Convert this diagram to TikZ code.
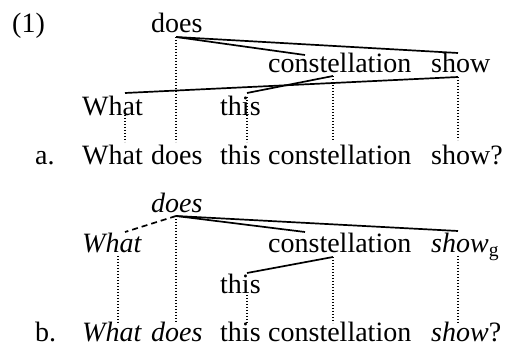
\documentclass[tikz,border=0pt]{standalone}
\usepackage{fontspec}
\setmainfont{Liberation Serif}
\begin{document}
\begin{tikzpicture}[x=1pt,y=-1pt,
  word/.style={inner sep=0pt,anchor=base west,font=\fontsize{28}{32}\selectfont},
  link/.style={line width=1.7pt},
  proj/.style={line width=1.3pt,dash pattern=on 1.3pt off 1.7pt},
  dlink/.style={line width=1.7pt,dash pattern=on 6pt off 4pt}]
\useasboundingbox (0,0) rectangle (507,347);
% ---------- (1) a ----------
\node[word] (num) at (12,33) {(1)};
\node[word] (doesA) at (151,33) {does};
\node[word] (constA) at (268,73) {constellation};
\node[word] (showA) at (431,73) {show};
\node[word] (whatA) at (82,116) {What};
\node[word] (thisA) at (220,116) {this};
\node[word] (la) at (35,165) {a.};
\node[word] (wa1) at (82,165) {What};
\node[word] (wa2) at (151,165) {does};
\node[word] (wa3) at (220,165) {this};
\node[word] (wa4) at (268,165) {constellation};
\node[word] (wa5) at (431,165) {show?};
\coordinate (dA) at (176,37);
\coordinate (cAt) at (305,55);
\coordinate (sAt) at (458,53);
\coordinate (cAb) at (333,76);
\coordinate (sAb) at (458,77);
\coordinate (wAt) at (125,93);
\coordinate (wAb) at (125,115);
\coordinate (tAt) at (247,93);
\coordinate (tAb) at (247,97);
\coordinate (e1) at (125,142);
\coordinate (e2) at (176,142);
\coordinate (e3) at (247,142);
\coordinate (e4) at (333,140);
\coordinate (e5) at (458,140);
\draw[link] (dA) -- (cAt);
\draw[link] (dA) -- (sAt);
\draw[link] (wAt) -- (sAb);
\draw[link] (tAt) -- (cAb);
\draw[proj] (wAb) -- (e1);
\draw[proj] (dA) -- (e2);
\draw[proj] (tAb) -- (e3);
\draw[proj] (cAb) -- (e4);
\draw[proj] (sAb) -- (e5);
% ---------- b ----------
\node[word] (doesB) at (151,213) {\itshape does};
\node[word] (whatB) at (82,253) {\itshape What};
\node[word] (constB) at (268,253) {constellation};
\node[word] (showB) at (431,253) {\itshape show\/$_{\mathrm{g}}$};
\node[word] (thisB) at (220,294) {this};
\node[word] (lb) at (35,342) {b.};
\node[word] (wb1) at (82,342) {\itshape What};
\node[word] (wb2) at (151,342) {\itshape does};
\node[word] (wb3) at (220,342) {this};
\node[word] (wb4) at (268,342) {constellation};
\node[word] (wb5) at (431,342) {\textit{show}?};
\coordinate (dB) at (176,216);
\coordinate (wBt) at (125,232);
\coordinate (wBb) at (118,256);
\coordinate (cBt) at (305,232);
\coordinate (sBt) at (458,231);
\coordinate (cBb) at (333,257);
\coordinate (sBb) at (458,256);
\coordinate (tBt) at (247,273);
\coordinate (tBb) at (247,295);
\coordinate (f1) at (118,323);
\coordinate (f2) at (176,323);
\coordinate (f3) at (247,323);
\coordinate (f4) at (333,323);
\coordinate (f5) at (458,323);
\draw[dlink] (dB) -- (wBt);
\draw[link] (dB) -- (cBt);
\draw[link] (dB) -- (sBt);
\draw[link] (tBt) -- (cBb);
\draw[proj] (wBb) -- (f1);
\draw[proj] (dB) -- (f2);
\draw[proj] (tBb) -- (f3);
\draw[proj] (cBb) -- (f4);
\draw[proj] (sBb) -- (f5);
\end{tikzpicture}
\end{document}
